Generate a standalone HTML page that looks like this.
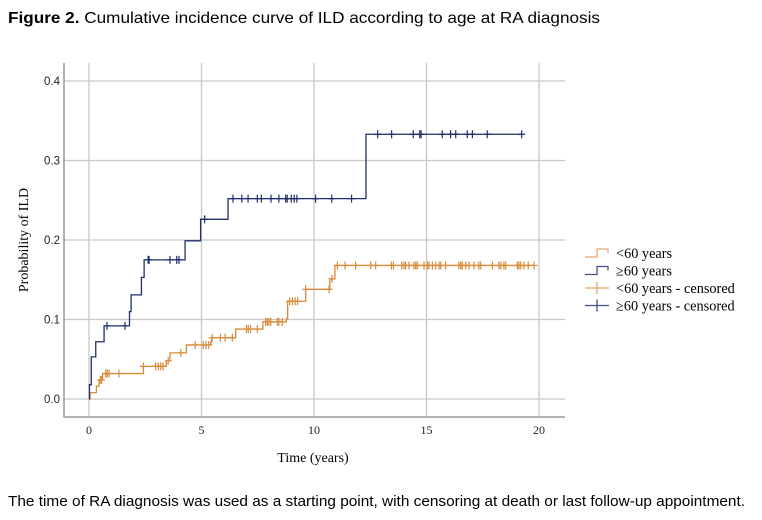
<!DOCTYPE html>
<html><head><meta charset="utf-8"><style>
body{margin:0;background:#fff;width:762px;height:520px;overflow:hidden;font-family:"Liberation Sans",sans-serif}
svg{position:absolute;left:0;top:0}
</style></head><body>
<svg id="c" width="762" height="520" xmlns="http://www.w3.org/2000/svg">
<text x="8" y="23" font-size="16" textLength="592" lengthAdjust="spacingAndGlyphs" fill="#000"><tspan font-weight="bold">Figure 2.</tspan> Cumulative incidence curve of ILD according to age at RA diagnosis</text>
<text x="8" y="506" font-size="15" textLength="737" lengthAdjust="spacingAndGlyphs" fill="#000">The time of RA diagnosis was used as a starting point, with censoring at death or last follow-up appointment.</text>
<g id="plot"></g>
</svg>
<script>
const xTicks=[0,5,10,15,20];
const yTicks=[0.0,0.1,0.2,0.3,0.4];
const yTickLabels=["0.0","0.1","0.2","0.3","0.4"];
const oldTimes=[0,0.02,0.1,0.3,0.67,1.8,1.87,2.33,2.45,4.27,4.96,6.18,12.31];
const oldVals=[0,0.018,0.053,0.072,0.092,0.11,0.131,0.153,0.175,0.199,0.226,0.252,0.333];
const oldEnd=19.23;
const oldCens=[0.8,1.6,2.63,2.67,3.6,3.9,4.0,5.14,6.4,6.79,7.07,7.48,7.66,8.09,8.44,8.74,8.81,8.99,9.12,9.24,10.07,10.79,11.67,12.83,13.45,14.41,14.7,14.76,15.7,16.07,16.3,16.81,17.04,17.7,19.23];
const youngTimes=[0,0.05,0.33,0.45,0.6,2.42,3.44,3.6,4.33,5.41,5.45,6.52,7.73,8.77,8.83,9.63,10.7,10.93];
const youngVals=[0,0.008,0.016,0.024,0.032,0.041,0.048,0.058,0.068,0.072,0.077,0.088,0.097,0.101,0.123,0.138,0.151,0.168];
const youngEnd=19.78;
const youngCens=[0.5,0.56,0.74,0.81,0.89,1.33,2.42,2.96,3.08,3.19,3.29,3.52,4.08,4.72,5.08,5.2,5.32,5.48,5.84,6.05,6.37,7.0,7.08,7.18,7.48,7.85,7.93,8.0,8.08,8.37,8.44,8.59,8.92,9.04,9.16,9.27,9.63,10.67,10.8,11.04,11.38,11.85,12.52,12.74,13.44,13.53,13.9,14.0,14.07,14.22,14.44,14.52,14.59,14.89,15.04,15.11,15.26,15.41,15.56,15.63,15.85,16.44,16.52,16.59,16.74,16.89,17.11,17.33,17.41,17.93,18.22,18.3,18.44,18.52,19.04,19.11,19.19,19.33,19.52,19.78];

const NS="http://www.w3.org/2000/svg";
const X=t=>89+22.5*t;
const Y=p=>399-795*p;
const g=document.getElementById('plot');
function mk(tag,attrs){const e=document.createElementNS(NS,tag);for(const k in attrs)e.setAttribute(k,attrs[k]);g.appendChild(e);return e;}
const L=64,R=565,T=63,B=417;
xTicks.forEach((t,i)=>{
 const l=mk('line',{x1:X(t),x2:X(t),y1:T,y2:B,stroke:'#c8c8c8','stroke-width':1.3});
 
 
 const tx=mk('text',{x:X(t),y:434,'font-size':12,'text-anchor':'middle','font-family':'Liberation Serif, serif',fill:'#222'});
 tx.textContent=t;
 
 
});
yTicks.forEach((p,i)=>{
 const l=mk('line',{x1:L,x2:R,y1:Y(p),y2:Y(p),stroke:'#c8c8c8','stroke-width':1.3});
 
 
 const tx=mk('text',{x:60,y:Y(p)+4,'font-size':11.5,'text-anchor':'end','font-family':'Liberation Sans, sans-serif',fill:'#222'});
 tx.textContent=yTickLabels[i];
 
 
});
const ax=mk('path',{d:`M${L} ${T}V${B}H${R}`,fill:'none',stroke:'#888','stroke-width':1.3});


const xt=mk('text',{x:313,y:462,'font-size':14,'text-anchor':'middle','font-family':'Liberation Serif, serif'});
xt.textContent='Time (years)';


const yt=mk('text',{x:0,y:0,'font-size':14,'text-anchor':'middle','font-family':'Liberation Serif, serif',transform:'translate(28,240) rotate(-90)'});
yt.textContent='Probability of ILD';



function stepPath(ts,vs,end){let d=`M${X(ts[0])} ${Y(vs[0])}`;for(let i=1;i<ts.length;i++){d+=`H${X(ts[i])}V${Y(vs[i])}`;}d+=`H${X(end)}`;return d;}
function valAt(ts,vs,t){let v=vs[0];for(let i=0;i<ts.length;i++)if(ts[i]<=t)v=vs[i];return v;}
function series(ts,vs,end,cens,col,name){
 const p=mk('path',{d:stepPath(ts,vs,end),fill:'none',stroke:col,'stroke-width':1.3});
 
 
 cens.forEach(t=>{
  const x=X(t),y=Y(valAt(ts,vs,t));
  const c=mk('path',{d:`M${x} ${y-4}V${y+4}M${x-3.5} ${y}H${x+3.5}`,stroke:col,'stroke-width':1.2});
  
  
 });
}
series(youngTimes,youngVals,youngEnd,youngCens,'#d98a3a','under-60');
series(oldTimes,oldVals,oldEnd,oldCens,'#1f2f6e','over-60');

const leg=[["<60 years","#e0a870",0],["≥60 years","#3f528a",0],["<60 years - censored","#e0a870",1],["≥60 years - censored","#3f528a",1]];
leg.forEach((e,i)=>{
 const y=253+i*17.5;
 const s=e[2]?mk('path',{d:`M585 ${y}H609M597 ${y-6}V${y+6}`,stroke:e[1],'stroke-width':1.3,fill:'none'}):mk('path',{d:`M585 ${y+4}H597V${y-4}H608V${y}`,stroke:e[1],'stroke-width':1.3,fill:'none'});
 
 
 const t=mk('text',{x:616,y:y+5,'font-size':14.3,'font-family':'Liberation Serif, serif'});
 t.textContent=e[0];
 
 
});
</script>
</body></html>
